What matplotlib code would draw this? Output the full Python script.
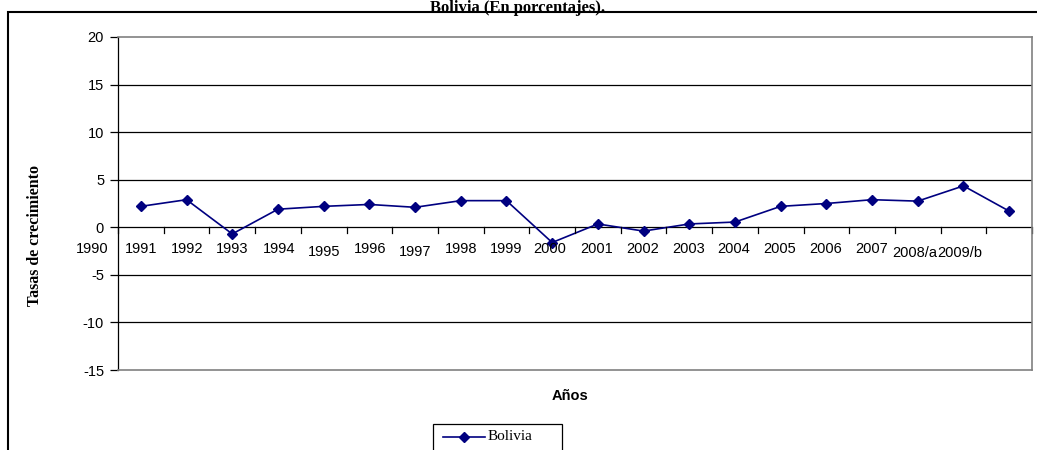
import matplotlib
matplotlib.use("Agg")
import matplotlib.pyplot as plt
from matplotlib.patches import Rectangle
from matplotlib.lines import Line2D
from matplotlib.transforms import offset_copy

plt.rcParams["axes.unicode_minus"] = False

labels = ["1990", "1991", "1992", "1993", "1994", "1995", "1996", "1997", "1998", "1999",
          "2000", "2001", "2002", "2003", "2004", "2005", "2006", "2007", "2008/a", "2009/b"]
label_pos = [-1.07, 0, 1.02, 2.0, 3.02, 4.0, 5.02, 6.0, 7.0, 8.0,
             8.95, 9.98, 10.98, 11.98, 12.98, 13.98, 14.98, 15.98, 16.94, 17.92]
label_dy = [0, 0, 0, 0, 0, 3, 0, 3, 0, 0, 0, 0, 0, 0, 0, 0, 0, 0, 4, 4]
values = [2.2, 2.9, -0.7, 1.9, 2.2, 2.4, 2.1, 2.8, 2.8, -1.6,
          0.35, -0.4, 0.35, 0.55, 2.2, 2.5, 2.9, 2.75, 4.35, 1.7]

W, H = 1037, 450
fig = plt.figure(figsize=(W / 100, H / 100), dpi=100)
sans = ["Liberation Sans", "DejaVu Sans"]
serif = ["Liberation Serif", "DejaVu Serif"]
navy = "#000080"

def fx(px):
    return px / W

def fy(py):
    return 1 - py / H

# outer border
fig.patches.append(Rectangle((fx(8), -0.01), 1.2, fy(12) + 0.01, transform=fig.transFigure,
                             fill=False, edgecolor="black", linewidth=1.5))

ax = fig.add_axes([fx(118), fy(370), fx(1032 - 118), (370 - 37) / H])
x = list(range(len(values)))
ax.plot(x, values, color=navy, marker="D", markersize=5.5, linewidth=1.2, label="Bolivia")
ax.set_xlim(-0.5, len(values) - 0.5)
ax.set_ylim(-15, 20)
ax.set_yticks(range(-15, 21, 5))
for yv in range(-10, 20, 5):
    ax.axhline(yv, color="black", linewidth=0.9, zorder=0)
ax.tick_params(axis="y", labelsize=10.5, length=6, direction="out", width=0.9, pad=4)
for t in ax.get_yticklabels():
    t.set_fontfamily(sans)
ax.set_xticks([])
for s in ["top", "right", "bottom"]:
    ax.spines[s].set_color("#808080")
    ax.spines[s].set_linewidth(1.2)
ax.spines["left"].set_color("black")
ax.spines["left"].set_linewidth(0.9)

# category tick marks on the zero line
for i in range(len(values) + 1):
    ax.plot([i - 0.5, i - 0.5], [0, -0.55], color="black", linewidth=0.9, clip_on=False)

for lab, px, dy in zip(labels, label_pos, label_dy):
    tr = offset_copy(ax.transData, fig=fig, x=0, y=-(15 + dy), units="dots")
    ax.text(px, 0, lab, transform=tr, ha="center", va="top", fontsize=10.5, family=sans)

fig.text(fx(570), fy(396), "Años", ha="center", va="center", fontsize=10.5,
         fontweight="bold", family=sans)
fig.text(fx(35), fy(235), "Tasas de crecimiento", ha="center", va="center", rotation=90,
         fontsize=11.5, fontweight="bold", family=serif)
fig.text(fx(518), fy(0.5), "Bolivia (En porcentajes).", ha="center", va="top",
         fontsize=12, fontweight="bold", family=serif)

# legend drawn as a box with a sample line and real text
fig.patches.append(Rectangle((fx(433), fy(455)), fx(562 - 433), (455 - 424) / H,
                             transform=fig.transFigure, fill=False, edgecolor="black", linewidth=0.9))
fig.lines.append(Line2D([fx(443), fx(485)], [fy(437), fy(437)], transform=fig.transFigure,
                        color=navy, linewidth=1.2))
fig.lines.append(Line2D([fx(464)], [fy(437)], transform=fig.transFigure, color=navy,
                        marker="D", markersize=5.5, linestyle="none"))
fig.text(fx(488), fy(437), "Bolivia", ha="left", va="center", fontsize=11, family=serif)

fig.savefig("out.png", dpi=100)
